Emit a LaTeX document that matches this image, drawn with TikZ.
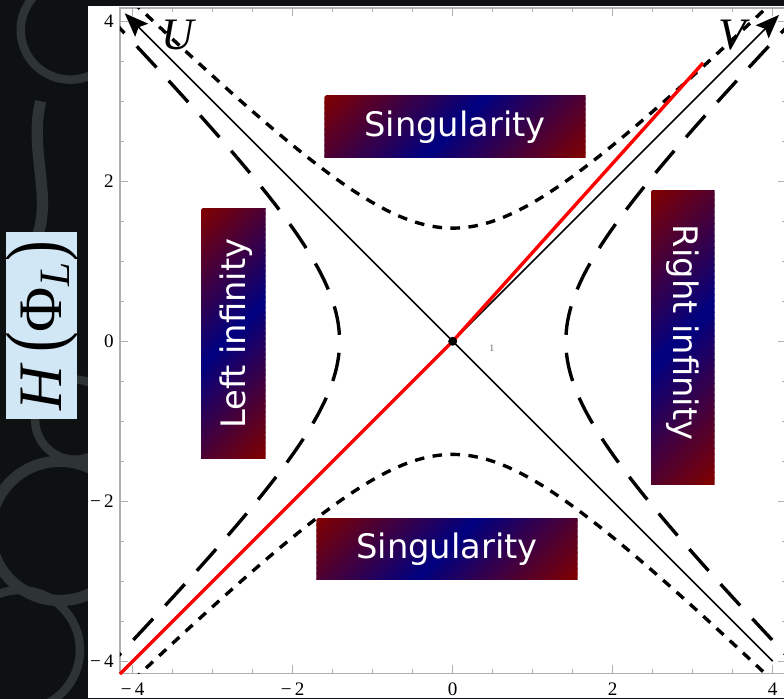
\documentclass[tikz,border=0pt]{standalone}
\usepackage{fontspec}
\setmainfont{Liberation Serif}
\newfontfamily\regionfont{DejaVu Sans}
\usetikzlibrary{arrows.meta}
\definecolor{darkred}{RGB}{128,0,0}
\definecolor{navyblue}{RGB}{0,0,128}
\definecolor{paleblue}{RGB}{209,231,245}
\definecolor{axisgray}{RGB}{175,175,175}
\definecolor{bgdark}{RGB}{14,17,17}
\definecolor{swirlgray}{RGB}{46,52,51}
% diagonal red-blue-red stripes inside a box node; #2 = half extent along the diagonal
\newcommand{\regionshade}[2]{%
  \begin{scope}
    \clip (#1.south west) rectangle (#1.north east);
    \begin{scope}[shift={(#1.center)}, rotate=-45]
      \foreach \k in {-30,...,29} {
        \pgfmathsetmacro{\mixp}{min(100,abs(\k+0.5)/30*100)}
        \fill[darkred!\mixp!navyblue] ({\k*#2/30},-3) rectangle ({(\k+1)*#2/30+0.01},3);
      }
    \end{scope}
  \end{scope}}

\begin{document}
\begin{tikzpicture}[
  plotframe/.style={axisgray, line width=0.45pt},
  ticklab/.style={font=\fontsize{6.8}{8}\selectfont, inner sep=0pt},
  axisline/.style={line width=0.6pt, -{Stealth[length=8.5pt,width=6.5pt,inset=1.5pt]}},
  longdash/.style={line width=1.2pt, dash pattern=on 10.3pt off 6.4pt},
  shortdash/.style={line width=1.2pt, dash pattern=on 3.4pt off 3pt},
  regionbox/.style={inner sep=0pt},
  regiontext/.style={text=white, font=\regionfont\fontsize{12}{14}\selectfont, inner sep=0pt},
  lightcone/.style={font=\fontsize{16}{16}\selectfont\itshape, inner sep=0pt}
]
\useasboundingbox (-5.659,-4.471) rectangle (4.141,4.266);
\fill[bgdark] (-5.659,-4.471) rectangle (4.141,4.266);
\begin{scope}
\clip (-5.659,-4.471) rectangle (-4.559,4.266);
\draw[swirlgray, line width=3pt] (-4.78,3.89) circle (0.62);
\draw[swirlgray, line width=4pt] (-5.15,3.0) .. controls (-5.3,2.4) and (-5.0,1.8) .. (-5.2,1.3);
\draw[swirlgray, line width=3pt] (-4.72,-0.98) circle (0.5);
\draw[swirlgray, line width=4pt] (-4.91,-2.37) circle (0.87);
\draw[swirlgray, line width=3pt] (-5.41,-3.86) circle (0.75);
\end{scope}
\fill[white] (-4.559,-4.459) rectangle (4.141,4.191);

\draw[plotframe] (-4.16,-4.15) rectangle (4.17,4.165);
\foreach \v in {-4,-3.5,...,4} {
  \draw[plotframe] (\v,-4.15) -- ++(0,0.055) (\v,4.165) -- ++(0,-0.055);
  \draw[plotframe] (-4.16,\v) -- ++(0.055,0) (4.17,\v) -- ++(-0.055,0);
}
\foreach \v in {-4,-2,...,4} {
  \draw[plotframe] (\v,-4.15) -- ++(0,0.1) (\v,4.165) -- ++(0,-0.1);
  \draw[plotframe] (-4.16,\v) -- ++(0.1,0) (4.17,\v) -- ++(-0.1,0);
}
\foreach \v/\lab in {-4/−\,4,-2/−\,2,0/0,2/2,4/4} {
  \node[ticklab, anchor=east] (yl\v) at (-4.23,\v) {\lab};
  \node[ticklab] (xl\v) at (\v,-4.355) {\lab};
}

\begin{scope}
\clip (-4.16,-4.15) rectangle (4.17,4.165);
\draw[longdash] plot[domain=-1.8:1.8, samples=90, smooth, variable=\s] ({sqrt(2)*cosh(\s)},{sqrt(2)*sinh(\s)});
\draw[longdash] plot[domain=-1.8:1.8, samples=90, smooth, variable=\s] ({-sqrt(2)*cosh(\s)},{sqrt(2)*sinh(\s)});
\draw[shortdash] plot[domain=-1.8:1.8, samples=90, smooth, variable=\s] ({sqrt(2)*sinh(\s)},{sqrt(2)*cosh(\s)});
\draw[shortdash] plot[domain=-1.8:1.8, samples=90, smooth, variable=\s] ({sqrt(2)*sinh(\s)},{-sqrt(2)*cosh(\s)});
\end{scope}

\coordinate (O) at (0,0);
\coordinate (Ustart) at (4,-4);
\coordinate (Utip) at (-4.1,4.1);
\coordinate (Vstart) at (-4,-4);
\coordinate (Vtip) at (4.08,4.08);
\coordinate (redstart) at (-4.16,-4.16);
\coordinate (redend) at (3.13,3.48);
\draw[axisline] (Ustart) -- (Utip);
\draw[axisline] (Vstart) -- (Vtip);
\draw[red, line width=1.2pt] (redstart) -- (O) -- (redend);
\fill (O) circle (0.056);
\node[lightcone] (ulab) at (-3.44,3.83) {U};
\node[lightcone] (vlab) at (3.50,3.83) {V};
\node[font=\fontsize{3.5}{4}\selectfont, text=black!60, inner sep=0pt] (mark) at (0.49,-0.09) {1};

\node[regionbox, minimum width=3.25cm, minimum height=0.7625cm] (singtop) at (0.029,2.681) {};
\node[regionbox, minimum width=3.25cm, minimum height=0.754cm] (singbot) at (-0.071,-2.599) {};
\node[regionbox, minimum width=0.79cm, minimum height=3.1125cm] (leftinf) at (-2.742,0.094) {};
\node[regionbox, minimum width=0.779cm, minimum height=3.6625cm] (rightinf) at (2.877,0.0475) {};
\regionshade{singtop}{1.419}
\regionshade{singbot}{1.416}
\regionshade{leftinf}{1.380}
\regionshade{rightinf}{1.570}
\node[regiontext] (singtoptext) at (singtop) {Singularity};
\node[regiontext] (singbottext) at (singbot) {Singularity};
\node[regiontext, rotate=90] (leftinftext) at ([xshift=0.03cm]leftinf.center) {Left infinity};
\node[regiontext, rotate=-90] (rightinftext) at ([yshift=0.06cm]rightinf.center) {Right infinity};

\node[fill=paleblue, minimum width=0.891cm, minimum height=2.334cm, inner sep=0pt] (hbox) at (-5.138,0.196) {};
\node[rotate=90, inner sep=0pt] (hlabel) at (hbox) {\fontsize{22}{22}\selectfont\textit{H}\,\scalebox{1}[1.3]{(}Φ\textsubscript{\textit{L}}\scalebox{1}[1.3]{)}};
\end{tikzpicture}
\end{document}
